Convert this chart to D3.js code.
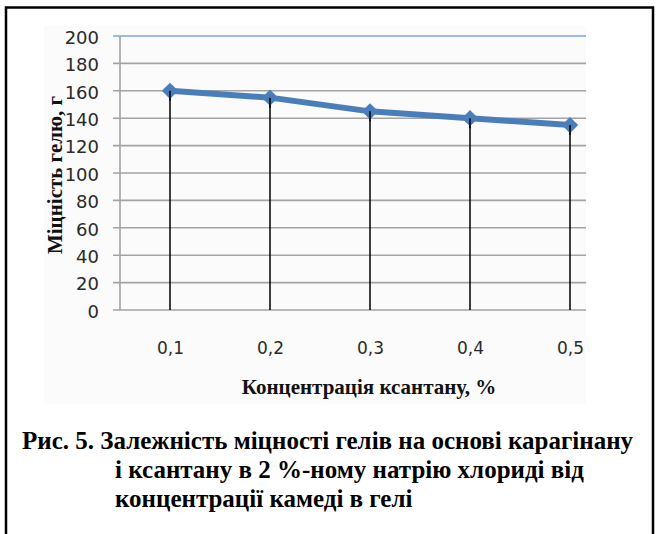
<!DOCTYPE html>
<html>
<head>
<meta charset="utf-8">
<script src="https://cdn.jsdelivr.net/npm/d3@7/dist/d3.min.js"></script>
<style>
  html, body { margin: 0; padding: 0; background: #fff; }
  svg { display: block; }
</style>
</head>
<body>
<svg id="chart" width="658" height="534"></svg>
<script>
// Gel strength vs. xanthan concentration
const categories = ["0,1", "0,2", "0,3", "0,4", "0,5"];
const strength = [160, 155, 145, 140, 135];
const yTicks = [0, 20, 40, 60, 80, 100, 120, 140, 160, 180, 200];
const yTitle = "Міцність гелю, г";
const xTitle = "Концентрація ксантану, %";
const captionLines = [
  "Рис. 5. Залежність міцності гелів на основі карагінану",
  "і ксантану в 2 %-ному натрію хлориді від",
  "концентрації камеді в гелі"
];

const svg = d3.select("#chart");

// plot frame
const plot = { left: 120, right: 586, top: 36, bottom: 310 };

const x = d3.scalePoint()
  .domain(categories)
  .range([plot.left + 50, plot.right - 16]);

const y = d3.scaleLinear()
  .domain([0, 200])
  .range([plot.bottom, plot.top]);

// outer frame (open at the bottom)
svg.append("path")
  .attr("d", `M6,534 L6,7.5 L653,7.5 L653,534`)
  .attr("fill", "none")
  .attr("stroke", "#000")
  .attr("stroke-width", 2.5);

// chart area background
svg.append("rect")
  .attr("x", 44).attr("y", 26)
  .attr("width", plot.right - 44).attr("height", 378)
  .attr("fill", "#fbfbfb");

// horizontal gridlines
svg.append("g")
  .selectAll("line")
  .data(yTicks)
  .join("line")
  .attr("x1", plot.left - 7)
  .attr("x2", plot.right)
  .attr("y1", d => y(d))
  .attr("y2", d => y(d))
  .attr("stroke", d => d === 200 ? "#7aa6da" : "#a3a3a3")
  .attr("stroke-width", 1.6);

// vertical axis line
svg.append("line")
  .attr("x1", plot.left).attr("x2", plot.left)
  .attr("y1", y(200)).attr("y2", y(0))
  .attr("stroke", "#a3a3a3")
  .attr("stroke-width", 1.6);

// y tick labels
const yAxis = d3.axisLeft(y).tickValues(yTicks).tickSize(0).tickPadding(21);
const gy = svg.append("g")
  .attr("transform", `translate(${plot.left},0)`)
  .call(yAxis);
gy.select(".domain").remove();
gy.selectAll("text")
  .attr("font-family", "DejaVu Sans, Verdana, sans-serif")
  .attr("font-size", 18)
  .attr("fill", "#2a2a2a")
  .attr("dy", "0.4em");

// x tick labels
const xAxis = d3.axisBottom(x).tickSize(0).tickPadding(0);
const gx = svg.append("g")
  .attr("transform", `translate(0,${plot.bottom})`)
  .call(xAxis);
gx.select(".domain").remove();
gx.selectAll("text")
  .attr("font-family", "DejaVu Sans, Verdana, sans-serif")
  .attr("font-size", 17)
  .attr("fill", "#2a2a2a")
  .attr("y", 38)
  .attr("dy", "0.35em");

// drop lines from each point to the category axis
svg.append("g")
  .selectAll("line")
  .data(strength)
  .join("line")
  .attr("x1", (d, i) => x(categories[i]))
  .attr("x2", (d, i) => x(categories[i]))
  .attr("y1", d => y(d))
  .attr("y2", y(0))
  .attr("stroke", "#000")
  .attr("stroke-width", 1.5);

// series line
const line = d3.line()
  .x((d, i) => x(categories[i]))
  .y(d => y(d));

svg.append("path")
  .datum(strength)
  .attr("d", line)
  .attr("fill", "none")
  .attr("stroke", "#4a7ebb")
  .attr("stroke-width", 6)
  .attr("stroke-linejoin", "round");

// diamond markers
const diamond = d3.symbol().type(d3.symbolDiamond2).size(170);
svg.append("g")
  .selectAll("path")
  .data(strength)
  .join("path")
  .attr("transform", (d, i) => `translate(${x(categories[i])},${y(d)})`)
  .attr("d", diamond)
  .attr("fill", "#4a7ebb");

// stems stay visible through the lower half of each marker
svg.append("g")
  .selectAll("line")
  .data(strength)
  .join("line")
  .attr("x1", (d, i) => x(categories[i]))
  .attr("x2", (d, i) => x(categories[i]))
  .attr("y1", d => y(d))
  .attr("y2", d => y(d) + 10)
  .attr("stroke", "#000")
  .attr("stroke-width", 1.5);

// axis titles
svg.append("text")
  .attr("transform", `translate(62,175) rotate(-90)`)
  .attr("text-anchor", "middle")
  .attr("font-family", "Liberation Serif, Times New Roman, serif")
  .attr("font-weight", "bold")
  .attr("font-size", 21)
  .attr("fill", "#111")
  .text(yTitle);

svg.append("text")
  .attr("x", 369)
  .attr("y", 394)
  .attr("text-anchor", "middle")
  .attr("font-family", "Liberation Serif, Times New Roman, serif")
  .attr("font-weight", "bold")
  .attr("font-size", 21)
  .attr("fill", "#111")
  .text(xTitle);

// figure caption
const capX = [22, 115, 115];
const capY = [449, 478, 507];
svg.append("g")
  .selectAll("text")
  .data(captionLines)
  .join("text")
  .attr("x", (d, i) => capX[i])
  .attr("y", (d, i) => capY[i])
  .attr("font-family", "Liberation Serif, Times New Roman, serif")
  .attr("font-weight", "bold")
  .attr("font-size", 25)
  .attr("fill", "#000")
  .text(d => d);
</script>
</body>
</html>
